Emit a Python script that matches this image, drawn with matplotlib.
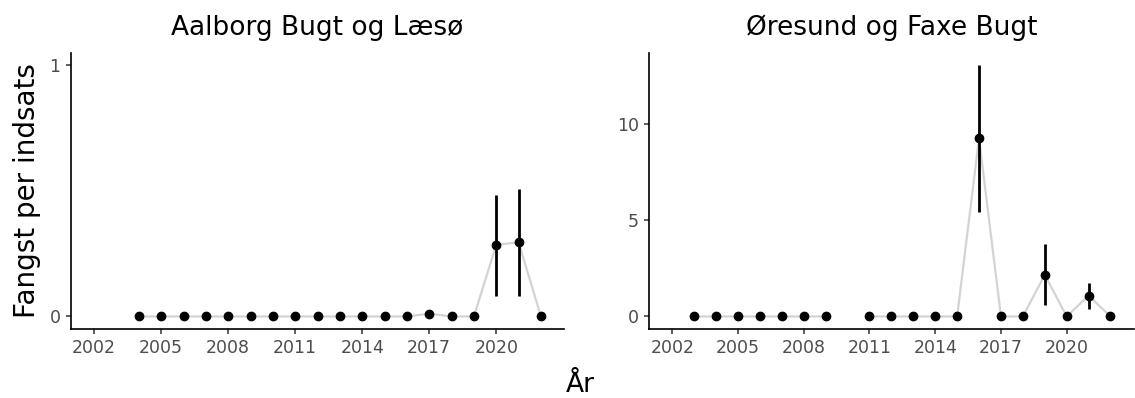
import matplotlib.pyplot as plt
import numpy as np

# Aalborg Bugt og Læsø
years_a = list(range(2004, 2023))
vals_a = [0, 0, 0, 0, 0, 0, 0, 0, 0, 0, 0, 0, 0, 0.011, 0, 0, 0.285, 0.295, 0]
lo_a = [0, 0, 0, 0, 0, 0, 0, 0, 0, 0, 0, 0, 0, 0.011, 0, 0, 0.083, 0.081, 0]
hi_a = [0, 0, 0, 0, 0, 0, 0, 0, 0, 0, 0, 0, 0, 0.011, 0, 0, 0.483, 0.507, 0]

# Øresund og Faxe Bugt (no data 2010)
years_b = list(range(2003, 2023))
vals_b = [0, 0, 0, 0, 0, 0, 0, np.nan, 0, 0, 0, 0, 0, 9.23, 0, 0, 2.16, 0, 1.08, 0]
lo_b = [0, 0, 0, 0, 0, 0, 0, np.nan, 0, 0, 0, 0, 0, 5.41, 0, 0, 0.57, 0, 0.41, 0]
hi_b = [0, 0, 0, 0, 0, 0, 0, np.nan, 0, 0, 0, 0, 0, 13.02, 0, 0, 3.78, 0, 1.75, 0]

titles = ['Aalborg Bugt og Læsø', 'Øresund og Faxe Bugt']
xticks = [2002, 2005, 2008, 2011, 2014, 2017, 2020]

W, H = 1135, 398
fig = plt.figure(figsize=(W / 100, H / 100), dpi=100)
ax1 = fig.add_axes([70.7 / W, 1 - 329 / H, (564.4 - 70.7) / W, (329 - 52.7) / H])
ax2 = fig.add_axes([649.3 / W, 1 - 329 / H, (1133.5 - 649.3) / W, (329 - 52.7) / H])

panels = [(ax1, years_a, vals_a, lo_a, hi_a, (-0.05, 1.05), [0, 1]),
          (ax2, years_b, vals_b, lo_b, hi_b, (-0.65, 13.67), [0, 5, 10])]

for i, (ax, yrs, v, lo, hi, ylim, yticks) in enumerate(panels):
    yrs = np.array(yrs)
    v = np.array(v, dtype=float)
    lo = np.array(lo, dtype=float)
    hi = np.array(hi, dtype=float)
    ax.plot(yrs, v, color='#d3d3d3', lw=1.6, zorder=1)
    ax.vlines(yrs, lo, hi, color='black', lw=2.0, zorder=2)
    ax.plot(yrs, v, 'o', color='black', ms=6, zorder=3)
    ax.set_xlim(2000.95, 2023.05)
    ax.set_ylim(*ylim)
    ax.set_xticks(xticks)
    ax.set_yticks(yticks)
    ax.set_title(titles[i], fontsize=19, pad=13)
    for s in ['top', 'right']:
        ax.spines[s].set_visible(False)
    for s in ['left', 'bottom']:
        ax.spines[s].set_linewidth(1.2)
    ax.tick_params(labelsize=12.5, colors='#333333', labelcolor='#4d4d4d',
                   length=3.3, width=1.1, pad=4)

ax1.set_ylabel('Fangst per indsats', fontsize=20, labelpad=6)
fig.text(580 / W, 1 - 385 / H, 'År', ha='center', va='center', fontsize=19)

fig.savefig('out.png', dpi=100)
